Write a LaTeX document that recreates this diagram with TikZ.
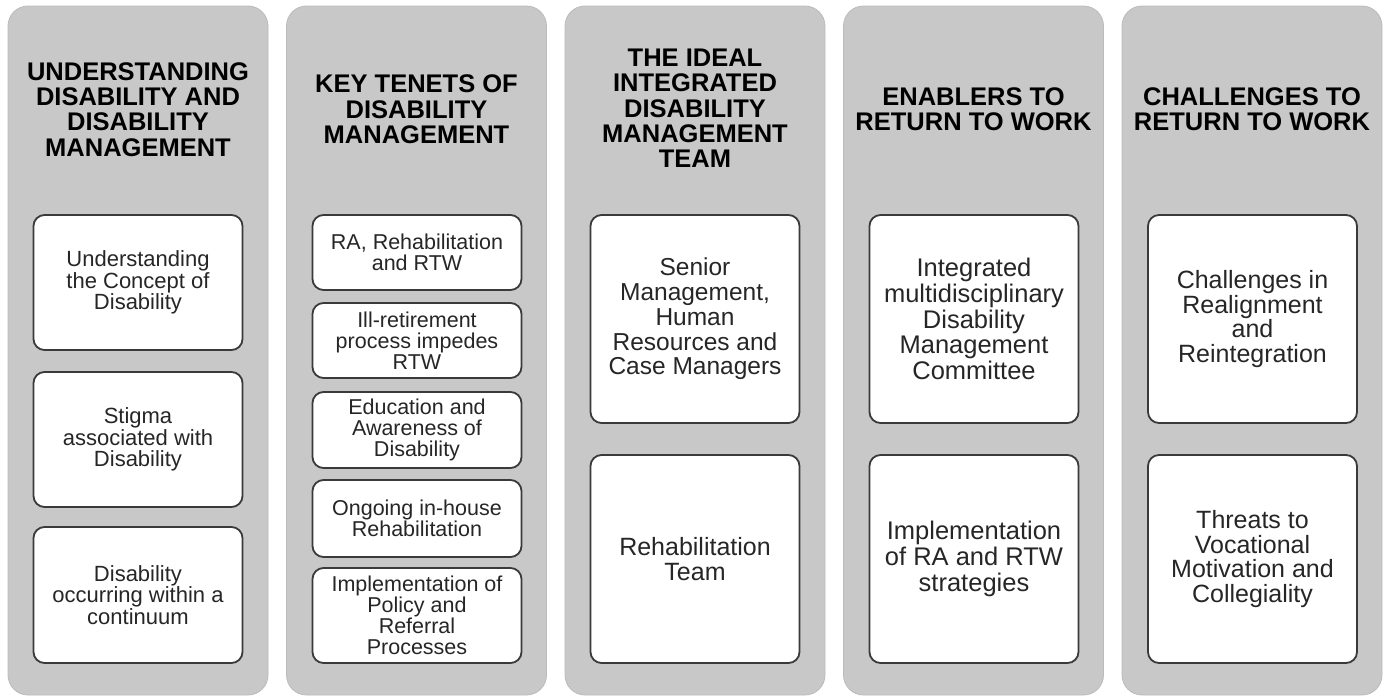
\documentclass[tikz,border=0pt]{standalone}
\usepackage{fontspec}
\setmainfont{Liberation Sans}

\definecolor{colfill}{HTML}{C8C8C8}
\definecolor{coledge}{HTML}{BBBBBB}
\definecolor{boxline}{HTML}{3A3A3A}
\definecolor{boxtext}{HTML}{262626}

\tikzset{
  column/.style={fill=colfill, draw=coledge, line width=0.8pt,
    rounded corners=20pt, minimum width=260pt, minimum height=689pt, inner sep=0pt},
  coltitle/.style={font=\bfseries\fontsize{25.5}{25.3}\selectfont,
    align=center, text=black, inner sep=0pt},
  itembox/.style={draw=boxline, fill=white, line width=1.8pt,
    rounded corners=11pt, align=center, text=boxtext, inner sep=0pt,
    minimum width=209pt},
  smallitem/.style={itembox, font=\fontsize{22}{21.8}\selectfont},
  tenetitem/.style={itembox, font=\fontsize{21.5}{21}\selectfont},
  largeitem/.style={itembox, minimum height=208pt},
}

\begin{document}
\begin{tikzpicture}[x=1pt, y=-1pt]
  \useasboundingbox (0,0) rectangle (1385,696);

  % grey columns
  \node[column] (c1) at (138,350.5)    {};
  \node[column] (c2) at (416.5,350.5)  {};
  \node[column] (c3) at (695,350.5)    {};
  \node[column] (c4) at (973.5,350.5)  {};
  \node[column] (c5) at (1252,350.5)   {};

  % column headings
  \node[coltitle] (t1) at (138,109.5)   {UNDERSTANDING\\DISABILITY AND\\DISABILITY\\MANAGEMENT};
  \node[coltitle] (t2) at (416.5,109.5) {KEY TENETS OF\\DISABILITY\\MANAGEMENT};
  \node[coltitle] (t3) at (695,108.5)   {THE IDEAL\\INTEGRATED\\DISABILITY\\MANAGEMENT\\TEAM};
  \node[coltitle] (t4) at (973.5,109)   {ENABLERS TO\\RETURN TO WORK};
  \node[coltitle] (t5) at (1252,109)    {CHALLENGES TO\\RETURN TO WORK};

  % column 1
  \node[smallitem, minimum height=135pt] (u1) at (138,282.5) {Understanding\\the Concept of\\Disability};
  \node[smallitem, minimum height=135pt] (u2) at (138,439.5) {Stigma\\associated with\\Disability};
  \node[smallitem, minimum height=136pt] (u3) at (138,595)   {Disability\\occurring within a\\continuum};

  % column 2
  \node[tenetitem, minimum height=75pt] (k1) at (417,252.5) {RA, Rehabilitation\\and RTW};
  \node[tenetitem, minimum height=75pt] (k2) at (417,340.5) {Ill-retirement\\process impedes\\RTW};
  \node[tenetitem, minimum height=76pt] (k3) at (417,430)   {Education and\\Awareness of\\Disability};
  \node[tenetitem, minimum height=77pt] (k4) at (417,518.5) {Ongoing in-house\\Rehabilitation};
  \node[tenetitem, minimum height=95pt] (k5) at (417,615.5) {Implementation of\\Policy and\\Referral\\Processes};

  % column 3
  \node[largeitem, font=\fontsize{24.5}{24.8}\selectfont] (m1) at (695,319)
    {Senior\\Management,\\Human\\Resources and\\Case Managers};
  \node[largeitem, font=\fontsize{25}{25.8}\selectfont] (m2) at (695,559)
    {Rehabilitation\\Team};

  % column 4
  \node[largeitem, font=\fontsize{25.5}{25.7}\selectfont] (e1) at (974,319)
    {Integrated\\multidisciplinary\\Disability\\Management\\Committee};
  \node[largeitem, font=\fontsize{25.5}{25.8}\selectfont] (e2) at (974,559)
    {Implementation\\of RA and RTW\\strategies};

  % column 5
  \node[largeitem, font=\fontsize{25}{24.6}\selectfont] (h1) at (1252.5,319)
    {Challenges in\\Realignment\\and\\Reintegration};
  \node[largeitem, font=\fontsize{25}{24.6}\selectfont] (h2) at (1252.5,559)
    {Threats to\\Vocational\\Motivation and\\Collegiality};
\end{tikzpicture}
\end{document}
